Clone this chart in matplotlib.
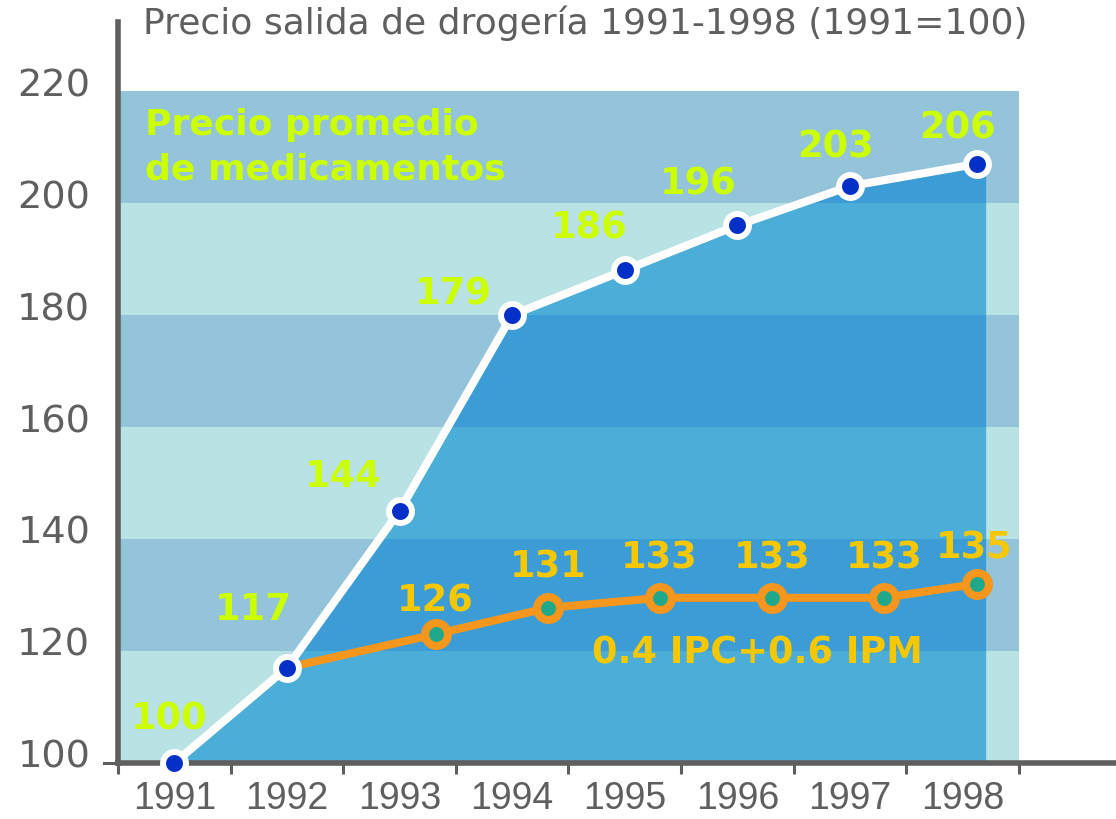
import numpy as np
import matplotlib
matplotlib.use('Agg')
import matplotlib.pyplot as plt
from matplotlib.transforms import ScaledTranslation

plt.rcParams['font.family'] = ['Liberation Sans', 'DejaVu Sans']

### data ###
years = ['1991', '1992', '1993', '1994', '1995', '1996', '1997', '1998']
precio_vals = [100, 117, 145, 180, 188, 196, 203, 207]
precio_labels = ['100', '117', '144', '179', '186', '196', '203', '206']
formula_vals = [117, 123, 127.7, 129.5, 129.5, 129.5, 132]
formula_labels = ['', '126', '131', '133', '133', '133', '135']
y_ticks = [100, 120, 140, 160, 180, 200, 220]

### layout ###
x_precio = np.arange(len(years)) + 0.5
x_precio[-1] = 7.63
x_formula = np.array([1.5, 2.82, 3.82, 4.81, 5.81, 6.80, 7.63])
fill_right = 7.71

# label offsets in pixels (dx, dy up)
off_precio = [(-5, 45), (-34, 59), (-56, 36), (-59, 22), (-36, 43), (-39, 42), (-14, 40), (-20, 37)]
off_formula = [(0, 0), (0, 34), (0, 42), (0, 41), (0, 41), (0, 41), (-3, 37)]

gray = '#5f5f5f'
band_dark, band_light = '#93c4da', '#b9e2e4'
fill_dark, fill_light = '#3c9dd6', '#4aaed9'
green_txt = '#ccff00'
gold_txt = '#f7c800'
orange = '#f6961c'
wide_font = ['DejaVu Sans']

fig = plt.figure(figsize=(11.16, 8.2), dpi=100)
ax = fig.add_axes([118 / 1116, 1 - 764 / 820, 1 - 118 / 1116, (764 - 23) / 820])
ax.set_xlim(0, (1116 - 118) / 112.6)
ax.set_ylim(100, 100 + (764 - 23) / 5.6)

# background bands
for i, lo in enumerate(y_ticks[:-1]):
    c = band_light if i % 2 == 0 else band_dark
    ax.fill_between([0, 8], lo, lo + 20, color=c, lw=0, zorder=0)

# blue area under the price line, with its own bands
px = list(x_precio) + [fill_right]
py = list(precio_vals) + [precio_vals[-1]]
poly = ax.fill_between(px, 100, py, color='none', lw=0)
clip = poly.get_paths()[0]
for i, lo in enumerate(y_ticks[:-1]):
    c = fill_light if i % 2 == 0 else fill_dark
    band = ax.fill_between([0, 8], lo, lo + 20, color=c, lw=0, zorder=1)
    band.set_clip_path(clip, ax.transData)

# orange line (formula)
ax.plot(x_formula, formula_vals, color=orange, lw=5.8, zorder=3, solid_capstyle='round')
ax.plot(x_formula[1:], formula_vals[1:], 'o', ms=16.5, mfc='#1fa88b', mec=orange, mew=5.8, zorder=4)

# white line (precio promedio)
ax.plot(x_precio, precio_vals, color='white', lw=5.8, zorder=5, clip_on=False)
ax.plot(x_precio, precio_vals, 'o', ms=16.5, mfc='#0530c8', mec='white', mew=4.3, zorder=6, clip_on=False)

for x, y, t, (dx, dy) in zip(x_precio, precio_vals, precio_labels, off_precio):
    ax.annotate(t, (x, y), xytext=(dx * 0.72, dy * 0.72), textcoords='offset points',
                ha='center', va='center', fontsize=26.5, fontweight='bold', color=green_txt,
                family=wide_font, zorder=7)
for x, y, t, (dx, dy) in zip(x_formula, formula_vals, formula_labels, off_formula):
    ax.annotate(t, (x, y), xytext=(dx * 0.72, dy * 0.72), textcoords='offset points',
                ha='center', va='center', fontsize=26.5, fontweight='bold', color=gold_txt,
                family=wide_font, zorder=7)

ax.text(0.24, 210.2, 'Precio promedio\nde medicamentos', fontsize=26, fontweight='bold',
        color=green_txt, va='center', ha='left', linespacing=1.38, family=wide_font, zorder=7)
ax.text(5.675, 119.8, '0.4 IPC+0.6 IPM', fontsize=26.5, fontweight='bold',
        color=gold_txt, va='center', ha='center', family=wide_font, zorder=7)

fig.text(143 / 1116, 1 - 23 / 820, 'Precio salida de drogería 1991-1998 (1991=100)',
         fontsize=26, color=gray, va='center', ha='left', family=wide_font)

# axes styling
for s in ['top', 'right']:
    ax.spines[s].set_visible(False)
for s in ['left', 'bottom']:
    ax.spines[s].set_color(gray)
    ax.spines[s].set_linewidth(4)
    ax.spines[s].set_zorder(2)
ax.plot([-0.12, 0], [100, 100], color=gray, lw=2.2, clip_on=False)

ax.set_yticks(y_ticks)
ax.set_yticklabels([str(v) for v in y_ticks], family=wide_font)
ax.tick_params(axis='y', length=0, pad=20, labelsize=27.5, labelcolor=gray)
for lab in ax.get_yticklabels():
    lab.set_transform(lab.get_transform() + ScaledTranslation(0, 10 / 100, fig.dpi_scale_trans))

ax.set_xticks(np.arange(0, 9))
ax.set_xticklabels([])
ax.set_xticks(np.arange(len(years)) + 0.5, minor=True)
ax.set_xticklabels(years, minor=True)
ax.tick_params(axis='x', which='major', length=8, width=2.2, color=gray, direction='out')
ax.tick_params(axis='x', which='minor', length=0, pad=12, labelsize=27, labelcolor=gray)

fig.savefig('out.png', dpi=100)
